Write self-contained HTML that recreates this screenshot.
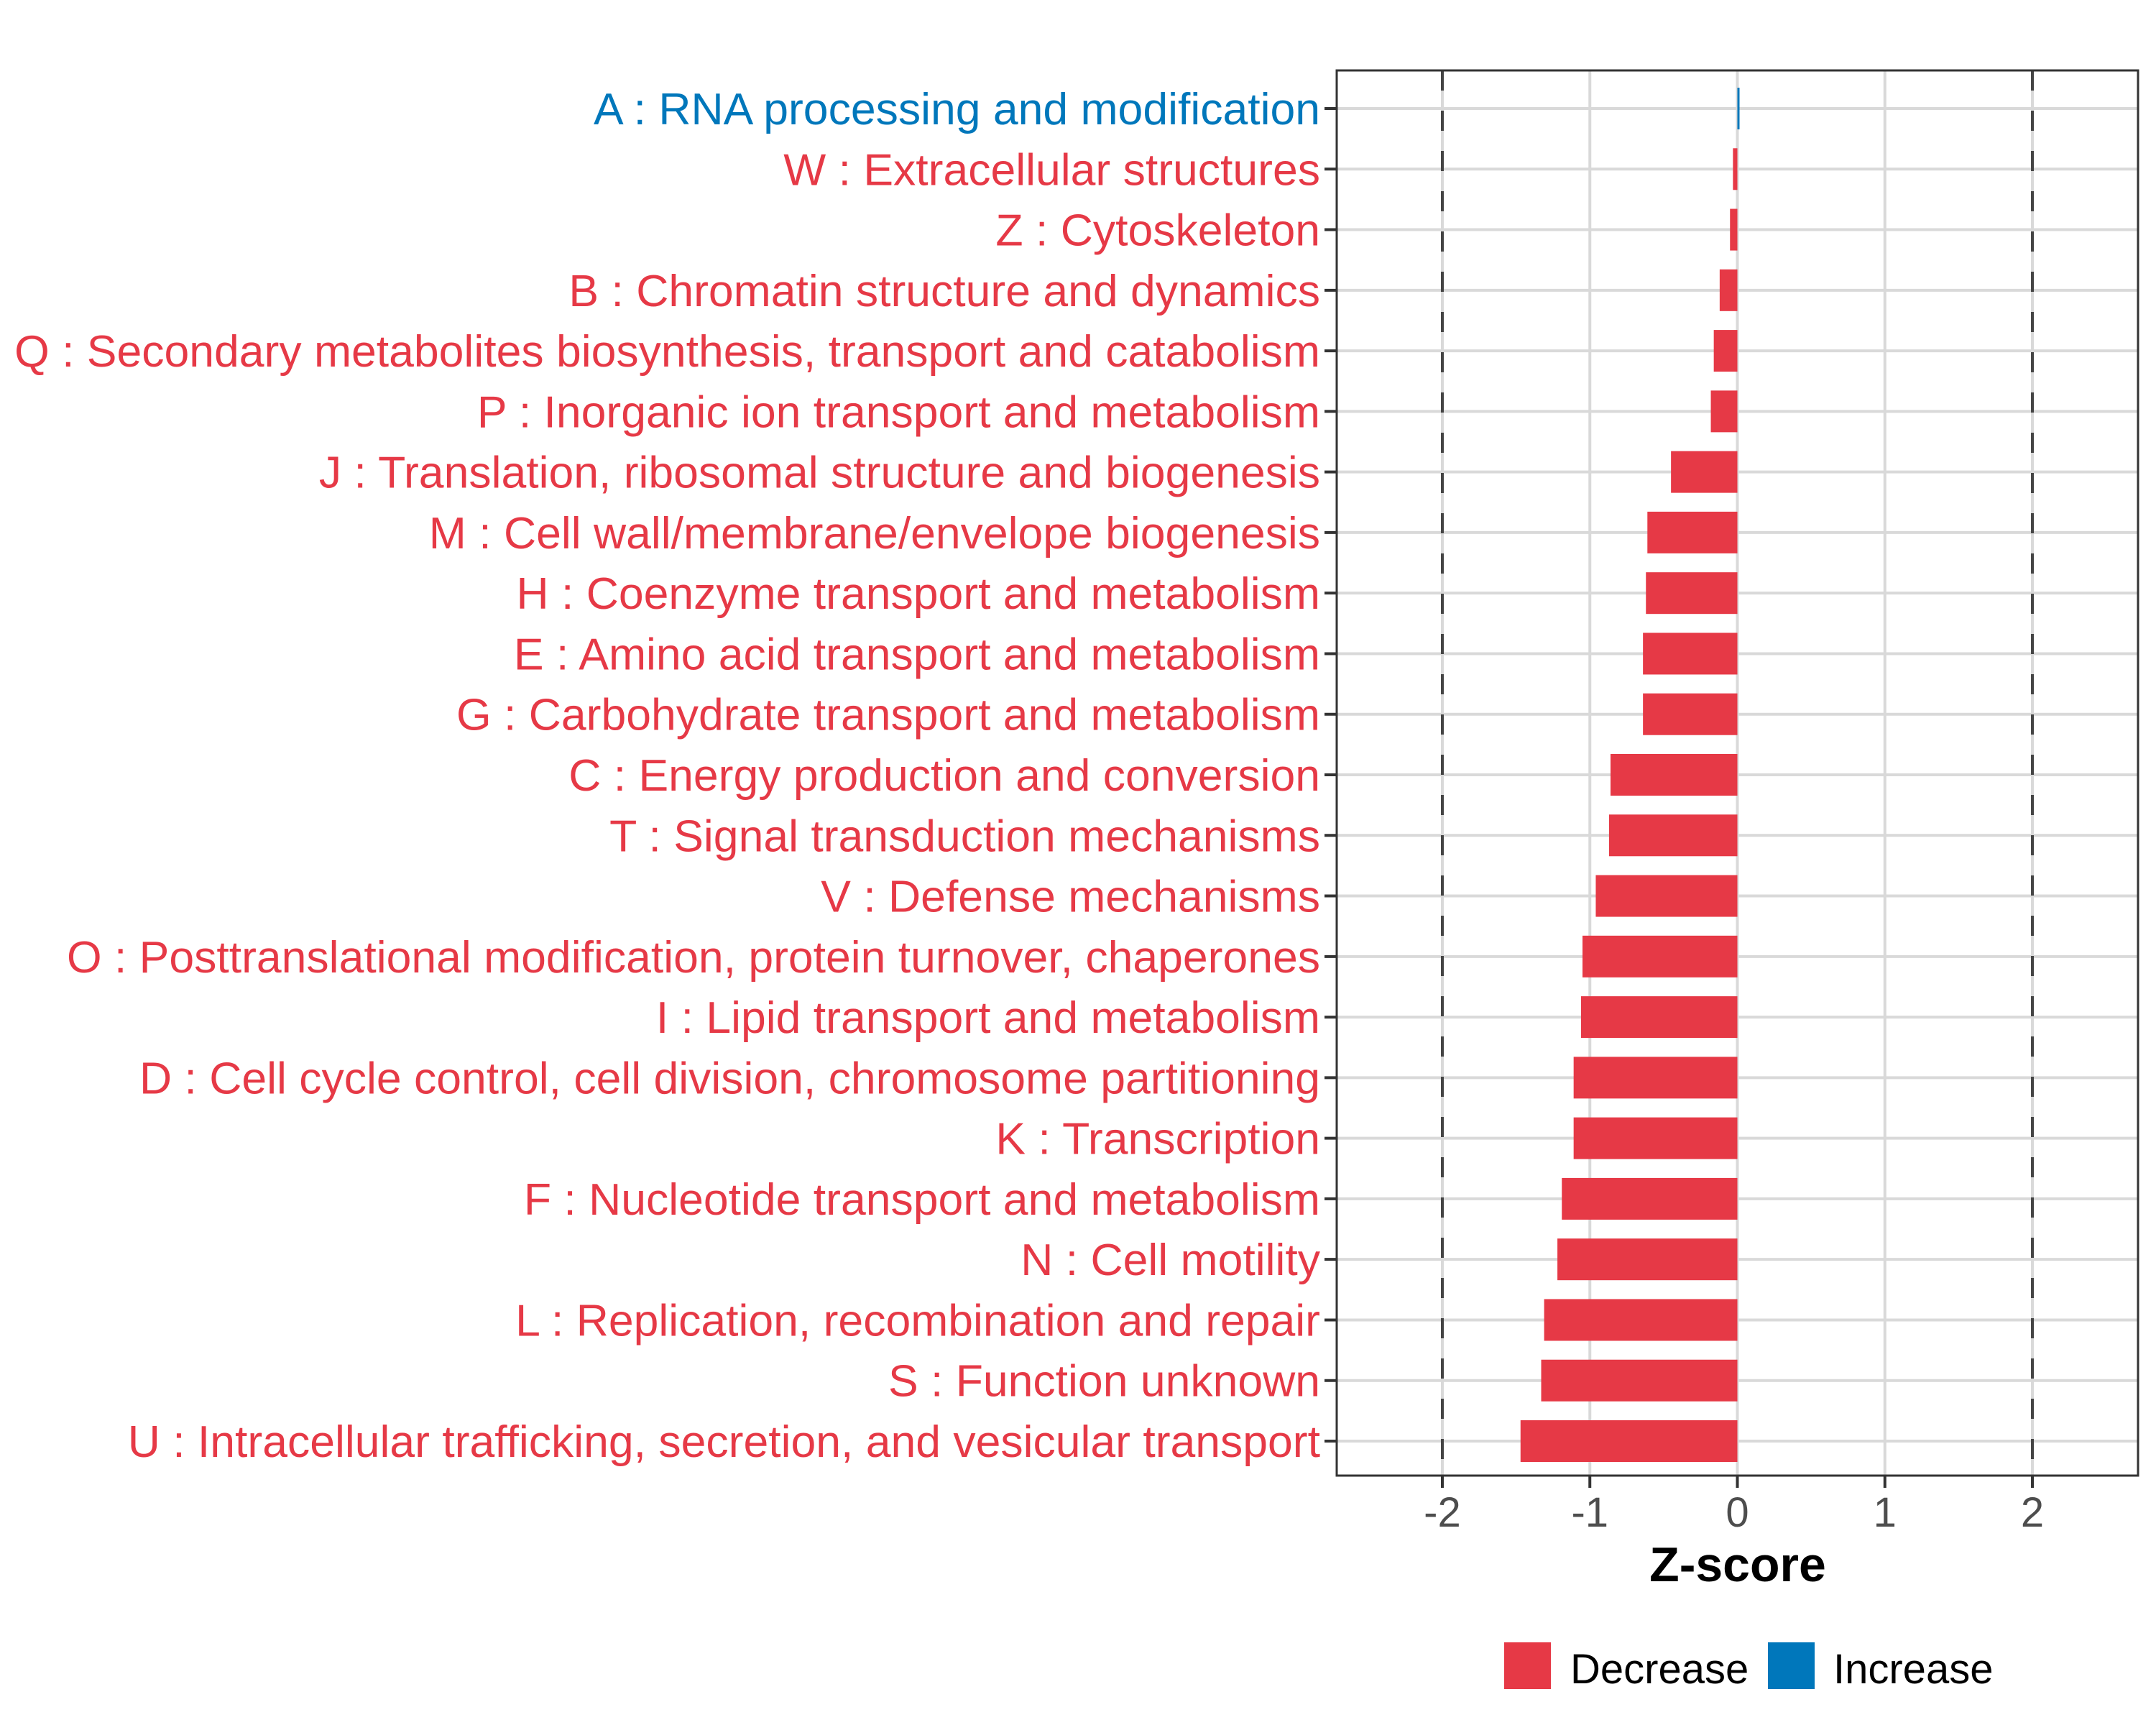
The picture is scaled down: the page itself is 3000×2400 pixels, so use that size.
<!DOCTYPE html>
<html><head><meta charset="utf-8"><style>
html,body{margin:0;padding:0;background:#fff}
svg{display:block;font-family:"Liberation Sans",Arial,sans-serif}
</style></head><body>
<svg id="chart" width="3000" height="2400" viewBox="0 0 3000 2400" xmlns="http://www.w3.org/2000/svg">
<rect width="3000" height="2400" fill="#fff"/>
<g id="grid"></g>
<g id="bars"></g>
<g id="ylabels"></g>
<g id="xaxis"></g>
<text x="2418" y="2200" text-anchor="middle" font-size="68" font-weight="bold" fill="#000">Z-score</text>
<g>
<g>
<rect x="2093" y="2285" width="65" height="65" fill="#E63946"/>
<text x="2185" y="2342" font-size="58" fill="#000">Decrease</text>
</g>
<g>
<rect x="2460" y="2285" width="65" height="65" fill="#0077BB"/>
<text x="2551" y="2342" font-size="58" fill="#000">Increase</text>
</g>
</g>
</svg>
<script>
const categories = ["A : RNA processing and modification","W : Extracellular structures","Z : Cytoskeleton","B : Chromatin structure and dynamics","Q : Secondary metabolites biosynthesis, transport and catabolism","P : Inorganic ion transport and metabolism","J : Translation, ribosomal structure and biogenesis","M : Cell wall/membrane/envelope biogenesis","H : Coenzyme transport and metabolism","E : Amino acid transport and metabolism","G : Carbohydrate transport and metabolism","C : Energy production and conversion","T : Signal transduction mechanisms","V : Defense mechanisms","O : Posttranslational modification, protein turnover, chaperones","I : Lipid transport and metabolism","D : Cell cycle control, cell division, chromosome partitioning","K : Transcription","F : Nucleotide transport and metabolism","N : Cell motility","L : Replication, recombination and repair","S : Function unknown","U : Intracellular trafficking, secretion, and vesicular transport"];
const zscores = [0.01,-0.03,-0.05,-0.12,-0.16,-0.18,-0.45,-0.61,-0.62,-0.64,-0.64,-0.86,-0.87,-0.96,-1.05,-1.06,-1.11,-1.11,-1.19,-1.22,-1.31,-1.33,-1.47];
const xTicks = [-2,-1,0,1,2];
const xTickLabels = ["-2","-1","0","1","2"];
const thresholds = [-2,2];

const NS="http://www.w3.org/2000/svg";
const L=1860,R=2975,T=98,B=2053;
const xDomain=[-2.716,2.716];
function xs(v){return L+(v-xDomain[0])/(xDomain[1]-xDomain[0])*(R-L);}
const rowStep=(2005-151)/(categories.length-1);
function ys(i){return 151+i*rowStep;}
function mk(tag,attrs,parent){const e=document.createElementNS(NS,tag);for(const k in attrs)e.setAttribute(k,attrs[k]);parent.appendChild(e);return e;}
const grid=document.getElementById('grid'),bars=document.getElementById('bars'),yl=document.getElementById('ylabels'),xa=document.getElementById('xaxis');
xTicks.forEach(v=>{const ln=mk('line',{x1:xs(v),x2:xs(v),y1:T,y2:B,stroke:'#d9d9d9','stroke-width':4},grid);

});
categories.forEach((c,i)=>{const ln=mk('line',{x1:L,x2:R,y1:ys(i),y2:ys(i),stroke:'#d9d9d9','stroke-width':4},grid);

});
const bh=58;
categories.forEach((c,i)=>{const v=zscores[i];const x0=xs(0),x1=xs(v);
const col=v>=0?'#0077BB':'#E63946';
let w=Math.abs(x1-x0);if(w<3)w=3;
const r=mk('rect',{x:Math.min(x0,x1),y:ys(i)-bh/2,width:w,height:bh,fill:col},bars);


const t=mk('text',{x:1837,y:ys(i)+22,'text-anchor':'end','font-size':62.5,fill:col},yl);
t.textContent=c;


const tk=mk('line',{x1:1843,x2:L,y1:ys(i),y2:ys(i),stroke:'#333','stroke-width':4},yl);

});
thresholds.forEach(v=>{const ln=mk('line',{x1:xs(v),x2:xs(v),y1:T,y2:B,stroke:'#444','stroke-width':4,'stroke-dasharray':'28 28'},bars);

});
const bd=mk('rect',{x:L,y:T,width:R-L,height:B-T,fill:'none',stroke:'#333','stroke-width':3},xa);


xTicks.forEach((v,i)=>{const tk=mk('line',{x1:xs(v),x2:xs(v),y1:B,y2:B+17,stroke:'#333','stroke-width':4},xa);


const t=mk('text',{x:xs(v),y:2124,'text-anchor':'middle','font-size':58,fill:'#4d4d4d'},xa);
t.textContent=xTickLabels[i];

});
</script>
</body></html>
